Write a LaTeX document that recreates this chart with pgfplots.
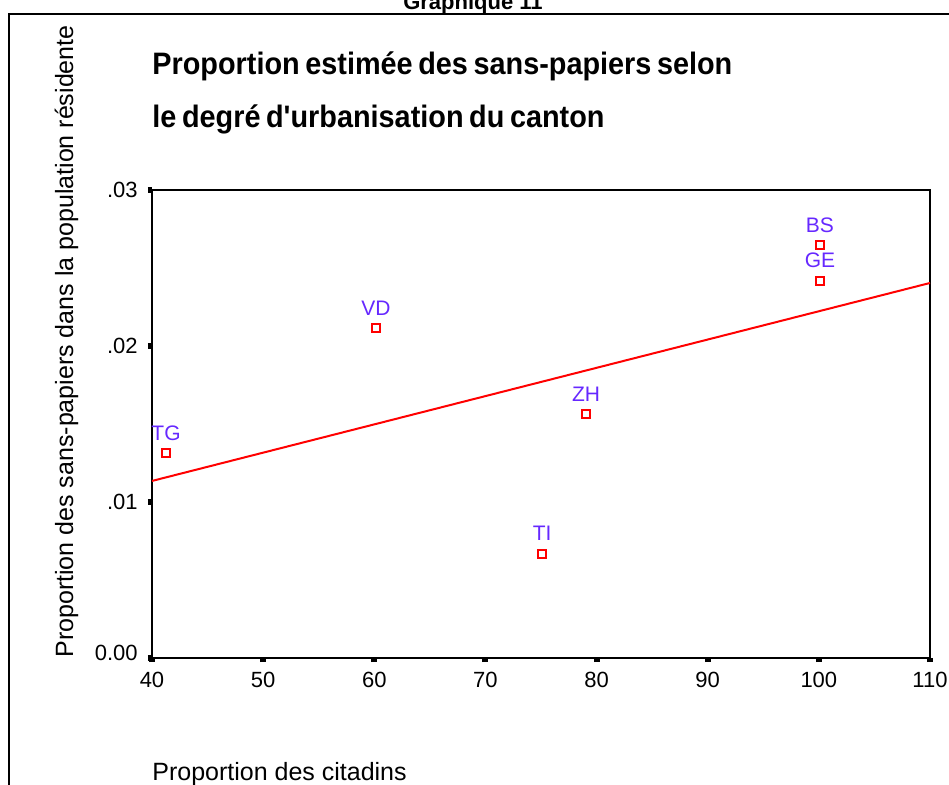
\documentclass[border=0pt]{standalone}
\usepackage{fontspec}
\setmainfont{Liberation Sans}
\newfontfamily\titlefont[WordSpace=0.7]{Liberation Sans}
\usepackage{pgfplots}
\pgfplotsset{compat=1.18}
\definecolor{lblpurple}{RGB}{102,40,255}

\begin{document}
\begin{tikzpicture}
% picture area, 949x784 px at 0.5pt per px
\useasboundingbox (0,0) rectangle (474.5pt,392pt);
\draw[line width=1pt] (4.25pt,-5pt) -- (4.25pt,385pt) -- (480pt,385pt);
\node[anchor=base, inner sep=0pt, font=\fontsize{11}{13}\selectfont\bfseries] at (236.5pt,387.4pt) {Graphique 11};

\node[anchor=base west, inner sep=0pt, font=\fontsize{15.5}{17}\titlefont\bfseries] at (76pt,354.5pt) {\scalebox{0.93}[1]{Proportion estimée des sans-papiers selon}};
\node[anchor=base west, inner sep=0pt, font=\fontsize{15.5}{17}\titlefont\bfseries] at (76pt,328pt) {\scalebox{0.93}[1]{le degré d'urbanisation du canton}};

\node[anchor=base west, rotate=90, inner sep=0pt, font=\fontsize{12.5}{14}\selectfont] at (36.5pt,63pt) {Proportion des sans-papiers dans la population résidente};
\node[anchor=base west, inner sep=0pt, font=\fontsize{12.5}{14}\selectfont] at (76pt,2pt) {Proportion des citadins};

\begin{axis}[
    at={(76pt,63pt)}, anchor=south west,
    width=389pt, height=234pt, scale only axis,
    xmin=40, xmax=110, ymin=0, ymax=0.03,
    xtick={40,50,...,110},
    ytick={0,0.01,0.02,0.03},
    yticklabels={\raisebox{5.5pt}{0.00},.01,.02,\raisebox{-3pt}{.03}},
    scaled y ticks=false,
    xtick pos=bottom, ytick pos=left,
    tick align=outside,
    major tick length=2pt,
    major tick style={line width=3pt, black},
    axis line style={line width=1.2pt},
    /pgf/number format/assume math mode=true,
    tick label style={font=\fontsize{11}{13}\selectfont, inner sep=0pt},
    xticklabel style={yshift=-5pt},
    yticklabel style={xshift=-5pt},
    clip=false,
]
% fitted line
\addplot[red, line width=1pt] coordinates {(40,0.01135) (110,0.02404)};
% cantons
\addplot[only marks, mark=square, mark size=2pt, red, mark options={line width=0.7pt},
    nodes near coords, point meta=explicit symbolic,
    nodes near coords style={anchor=base, inner sep=0pt, yshift=6.5pt,
        text=lblpurple, font=\fontsize{10.5}{12}\selectfont}]
    table[meta=lab] {
x y lab
41.26 0.01314 TG
60.15 0.02115 VD
75.1 0.00667 TI
79.05 0.01564 ZH
100.1 0.02647 BS
100.1 0.02417 GE
};
\end{axis}
\end{tikzpicture}
\end{document}
